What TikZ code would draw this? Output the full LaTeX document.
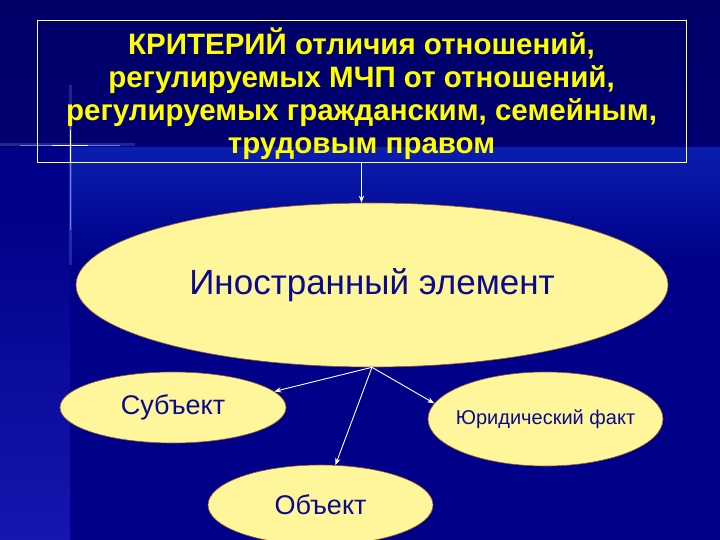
\documentclass[tikz,border=0pt]{standalone}
\usepackage{fontspec}
\setmainfont{Liberation Sans}
\usetikzlibrary{shapes.geometric, arrows.meta}

\definecolor{bgnavy}{RGB}{0,0,136}
\definecolor{topnavy}{RGB}{0,0,104}
\definecolor{bandblue}{RGB}{22,22,176}
\definecolor{stripblue}{RGB}{10,30,175}
\definecolor{sparkblue}{RGB}{120,150,255}
\definecolor{ovalfill}{RGB}{255,245,155}
\definecolor{ovaledge}{RGB}{150,90,40}
\definecolor{textnavy}{RGB}{10,10,140}
\definecolor{headyellow}{RGB}{255,255,0}
\definecolor{frameyellow}{RGB}{255,255,150}

\begin{document}
\begin{tikzpicture}[
    x=1pt, y=-1pt,
    >=Stealth,
    oval/.style={ellipse, draw=ovaledge, line width=0.6pt, fill=ovalfill,
        text=textnavy, inner sep=0pt},
    link/.style={->, white, line width=0.9pt}
]

    % Background
    \useasboundingbox (0,0) rectangle (720,540);
    \fill[bgnavy] (0,0) rectangle (720,540);
    \shade[top color=topnavy, bottom color=topnavy!70!bgnavy] (0,0) rectangle (720,148);
    \shade[top color=stripblue, bottom color=bgnavy] (70,148) rectangle (720,260);
    \shade[top color=bgnavy, bottom color=bandblue] (0,200) rectangle (70,540);

    % Sparkle
    \draw[sparkblue, line width=3pt, opacity=0.25] (0,145) -- (135,145);
    \draw[sparkblue, line width=0.8pt, opacity=0.8] (20,145) -- (120,145);
    \draw[white, line width=0.8pt] (52,145) -- (88,145);
    \draw[sparkblue, line width=3pt, opacity=0.25] (70,85) -- (70,265);
    \draw[sparkblue, line width=0.8pt, opacity=0.8] (70,105) -- (70,230);
    \draw[white, line width=0.8pt] (70,130) -- (70,162);

    % Title Box
    \node[draw=frameyellow, line width=0.7pt, minimum width=649, minimum height=142,
        inner sep=2pt, text=headyellow, align=center,
        font=\bfseries\fontsize{29.5}{33}\selectfont]
        (title) at (361.5,91)
        {\rule{0pt}{33pt}КРИТЕРИЙ отличия отношений,\\регулируемых МЧП от отношений,\\
         регулируемых гражданским, семейным,\\трудовым правом};

    % Ellipses
    \node[oval, minimum width=592, minimum height=164,
        font=\fontsize{35}{40}\selectfont] (foreign) at (372,285) {Иностранный элемент};
    \node[oval, minimum width=226, minimum height=71,
        font=\fontsize{27}{30}\selectfont] (subj) at (173,407.5) {Субъект};
    \node[oval, minimum width=235, minimum height=94, inner xsep=-8pt,
        font=\fontsize{20}{24}\selectfont] (fact) at (545.5,419) {Юридический факт};
    \node[oval, minimum width=225, minimum height=80,
        font=\fontsize{27}{30}\selectfont] (obj) at (320.5,505) {Объект};

    % Arrows
    \draw[link] (title.south) -- (title.south |- foreign.north);
    \draw[link] (foreign.south) -- (subj.9);
    \draw[link] (foreign.south) -- (obj);
    \draw[link] (foreign.south) -- (fact.172);

\end{tikzpicture}
\end{document}
